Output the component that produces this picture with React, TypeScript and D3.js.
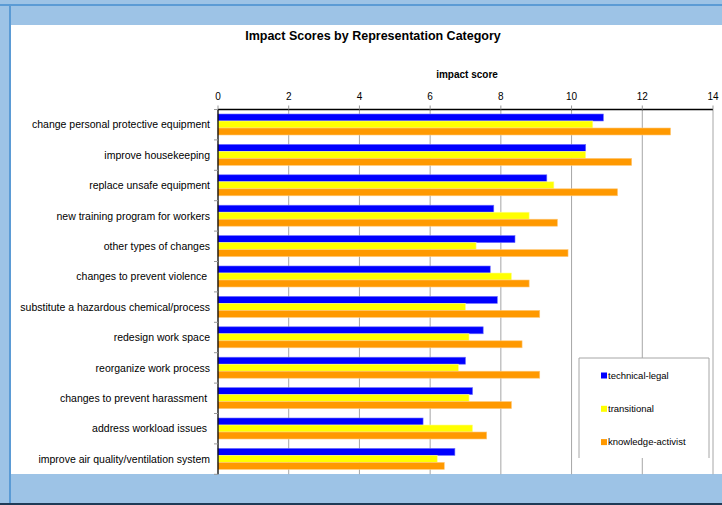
import * as d3 from "d3";
import React, { useEffect, useRef } from "react";

// categories, top to bottom
const categories = [
  "change personal protective equipment",
  "improve housekeeping",
  "replace unsafe equipment",
  "new training program for workers",
  "other types of changes",
  "changes to prevent violence ",
  "substitute a hazardous chemical/process",
  "redesign work space",
  "reorganize work process",
  "changes to prevent harassment ",
  "address workload issues ",
  "improve air quality/ventilation system",
];

const seriesNames = ["technical-legal", "transitional", "knowledge-activist"];
const technicalLegal = [10.9, 10.4, 9.3, 7.8, 8.4, 7.7, 7.9, 7.5, 7.0, 7.2, 5.8, 6.7];
const transitional = [10.6, 10.4, 9.5, 8.8, 7.3, 8.3, 7.0, 7.1, 6.8, 7.1, 7.2, 6.2];
const knowledgeActivist = [12.8, 11.7, 11.3, 9.6, 9.9, 8.8, 9.1, 8.6, 9.1, 8.3, 7.6, 6.4];
const xTicks = [0, 2, 4, 6, 8, 10, 12, 14];

const fills = ["#0000ff", "#ffff00", "#ff9900"];
const strokes = ["#7070ff", "#ffff90", "#ffc878"];

export default function App() {
  const ref = useRef<SVGSVGElement>(null);

  useEffect(() => {
    const svg = d3.select(ref.current);
    svg.selectAll("*").remove();
    const W = 722;
    const H = 505;
    const font = "'Liberation Sans', Arial, sans-serif";

    // frame
    svg.append("rect").attr("width", W).attr("height", H).attr("fill", "#9dc3e6");
    svg.append("rect").attr("x", 0).attr("y", 4).attr("width", W).attr("height", 2).attr("fill", "#5b9bd5");
    svg.append("rect").attr("x", 9).attr("y", 4).attr("width", 2).attr("height", H).attr("fill", "#5b9bd5");
    svg.append("rect").attr("x", 0).attr("y", 503).attr("width", W).attr("height", 2).attr("fill", "#1f3b57");
    svg.append("rect").attr("x", 11).attr("y", 25).attr("width", W - 11).attr("height", 449).attr("fill", "#ffffff");

    const top = 109.5;
    const bottom = 474.3;
    const x = d3.scaleLinear().domain([0, 14]).range([218, 713]);
    const y = d3.scaleBand().domain(categories).range([top, bottom]);
    const inner = d3.scaleBand().domain(seriesNames).range([4.5, 25.5]);

    const g = svg.append("g");

    // gridlines
    g.selectAll("line.grid")
      .data(xTicks.filter((t) => t > 0))
      .enter()
      .append("line")
      .attr("x1", (d) => x(d))
      .attr("x2", (d) => x(d))
      .attr("y1", top)
      .attr("y2", bottom)
      .attr("stroke", "#a6a6a6")
      .attr("stroke-width", 1);

    // bars
    const series = [technicalLegal, transitional, knowledgeActivist];
    series.forEach((vals, si) => {
      g.selectAll(`rect.s${si}`)
        .data(vals)
        .enter()
        .append("rect")
        .attr("x", x(0))
        .attr("y", (d, i) => y(categories[i])! + inner(seriesNames[si])!)
        .attr("width", (d) => x(d) - x(0))
        .attr("height", inner.bandwidth())
        .attr("fill", fills[si])
        .attr("stroke", strokes[si])
        .attr("stroke-width", 0.6);
    });

    // top axis
    g.append("line")
      .attr("x1", x(0)).attr("x2", x(14))
      .attr("y1", top).attr("y2", top)
      .attr("stroke", "#000").attr("stroke-width", 1.3);
    g.selectAll("line.xtick")
      .data(xTicks)
      .enter()
      .append("line")
      .attr("x1", (d) => x(d)).attr("x2", (d) => x(d))
      .attr("y1", top - 4).attr("y2", top)
      .attr("stroke", "#999");
    g.selectAll("text.xlab")
      .data(xTicks)
      .enter()
      .append("text")
      .attr("x", (d) => x(d))
      .attr("y", 100)
      .attr("text-anchor", "middle")
      .attr("font-family", font)
      .attr("font-size", 10)
      .text((d) => d);

    // left axis
    g.append("line")
      .attr("x1", x(0)).attr("x2", x(0))
      .attr("y1", top).attr("y2", bottom)
      .attr("stroke", "#000").attr("stroke-width", 1.3);
    g.selectAll("line.ytick")
      .data(d3.range(categories.length + 1))
      .enter()
      .append("line")
      .attr("x1", x(0) - 4).attr("x2", x(0))
      .attr("y1", (d) => top + d * y.step())
      .attr("y2", (d) => top + d * y.step())
      .attr("stroke", "#999");
    g.selectAll("text.ylab")
      .data(categories)
      .enter()
      .append("text")
      .attr("x", 210)
      .attr("y", (d) => y(d)! + y.bandwidth() / 2)
      .attr("dy", "0.35em")
      .attr("text-anchor", "end")
      .attr("font-family", font)
      .attr("font-size", 10.5)
      .style("white-space", "pre")
      .text((d) => d);

    // titles
    svg.append("text")
      .attr("x", 373).attr("y", 40)
      .attr("text-anchor", "middle")
      .attr("font-family", font)
      .attr("font-size", 12.5)
      .attr("font-weight", "bold")
      .text("Impact Scores by Representation Category");
    svg.append("text")
      .attr("x", 467).attr("y", 78)
      .attr("text-anchor", "middle")
      .attr("font-family", font)
      .attr("font-size", 10)
      .attr("font-weight", "bold")
      .text("impact score");

    // legend
    const lg = svg.append("g");
    lg.append("rect").attr("x", 579).attr("y", 358).attr("width", 130).attr("height", 100).attr("fill", "#fff");
    lg.append("path")
      .attr("d", "M579,458V358H709V458")
      .attr("fill", "none")
      .attr("stroke", "#a6a6a6");
    seriesNames.forEach((name, i) => {
      const cy = 375.5 + i * 33.3;
      lg.append("rect").attr("x", 601).attr("y", cy - 3).attr("width", 6).attr("height", 6).attr("fill", fills[i]);
      lg.append("text")
        .attr("x", 608).attr("y", cy)
        .attr("dy", "0.35em")
        .attr("font-family", font)
        .attr("font-size", 9.5)
        .text(name);
    });
  }, []);

  return (
    <svg
      ref={ref}
      width={722}
      height={505}
      style={{ position: "absolute", left: 0, top: 0, display: "block" }}
    />
  );
}
